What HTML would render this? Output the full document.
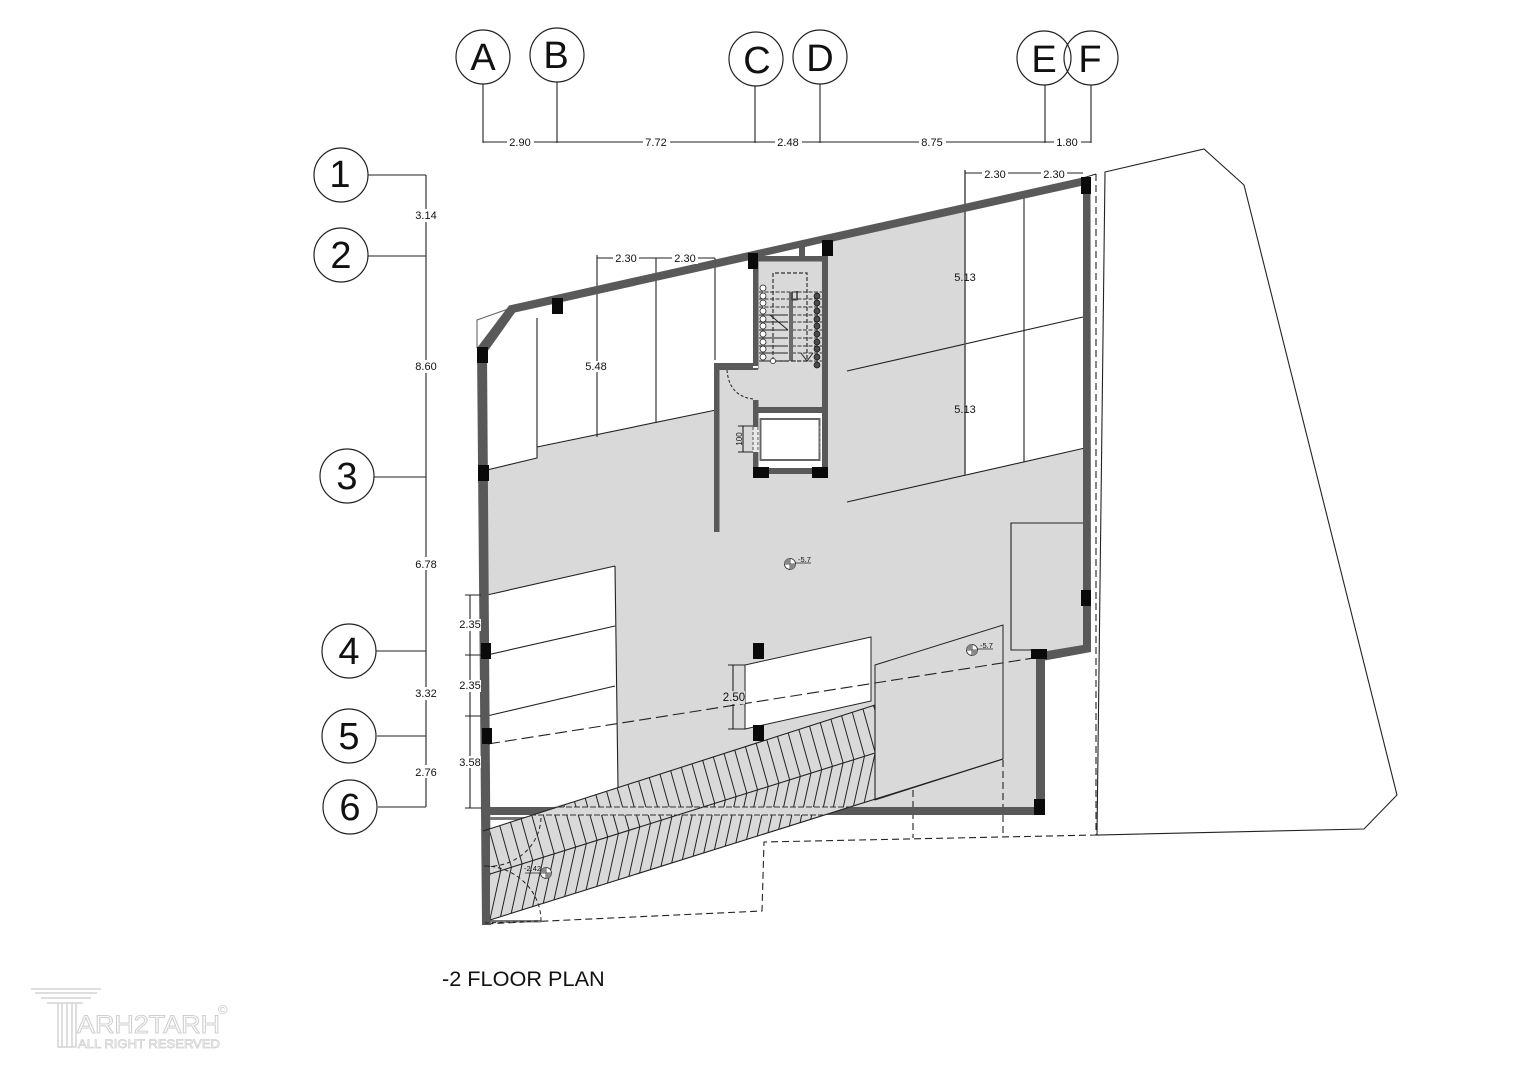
<!DOCTYPE html>
<html><head><meta charset="utf-8"><style>
html,body{margin:0;padding:0;background:#fff}
svg{display:block}
text{font-family:"Liberation Sans",sans-serif;fill:#111}
.d{font-size:10.5px;text-anchor:middle}
.g{font-size:38px;text-anchor:middle}
.t{stroke:#222;stroke-width:1.1;fill:none}
.w{fill:#595959}
.k{fill:#0a0a0a}
.c{fill:#fff;stroke:#222;stroke-width:1.2}
.bg{fill:#fff}
.dash{stroke:#222;stroke-width:1.1;fill:none;stroke-dasharray:7 4}
</style></head><body>
<svg width="1527" height="1080" viewBox="0 0 1527 1080" xmlns="http://www.w3.org/2000/svg">
<defs>
<clipPath id="ramp"><polygon points="490,829 875,705 875,799 490,920"/></clipPath>
<path id="ch" d="M476,824 L490,874 L479,924" fill="none" stroke="#222" stroke-width="1"/>
<g id="ch6"><use href="#ch"/><use href="#ch" transform="translate(10.7,-3.37)"/><use href="#ch" transform="translate(21.4,-6.74)"/><use href="#ch" transform="translate(32.1,-10.11)"/><use href="#ch" transform="translate(42.8,-13.48)"/><use href="#ch" transform="translate(53.5,-16.85)"/></g>
</defs>

<!-- floor -->
<polygon points="483,350 511,310 1085,180 1085,650 1040,657 1040,810 487,810" fill="#d9d9d9"/>
<polygon points="486,352 512,310 753,256 753,365 716,365 716,410 537,447 537,458 486,470" fill="#fff"/>
<polygon points="965,205 1085,178 1085,448 965,475" fill="#fff"/>
<polygon points="487,595 615,566 618,790 540,810 487,810" fill="#fff"/>
<polygon points="745,665 871,637 871,701 745,729" fill="#fff" stroke="#222" stroke-width="1"/>
<polygon points="875,665 1003,625 1003,759 875,800" fill="#d9d9d9" stroke="#222" stroke-width="1"/>

<!-- site -->
<path class="t" d="M1105,172 L1204,149 L1244,185 L1397,795 L1364,829 L1097,835 Z"/>
<path class="dash" d="M1096,174 V835 L764,842 L762,911 L483,924"/>
<path class="t" d="M1083,178 L1096,174"/>
<path class="dash" d="M913,790 V838 M1003,760 V837"/>
<path class="t" stroke-opacity=".7" d="M511,308 L477,320 V348"/>

<!-- interior lines -->
<g class="t">
<path d="M537,318 V458 L487,470 M537,447 L716,410"/>
<path d="M597,255 V437 M656,258 V423 M715,258 V360"/>
<path d="M1024,195 V462 M847,371 L1083,317 M847,502 L1085,448"/>
<path d="M615,566 L487,595 M615,626 L487,655 M615,686 L487,716 M615,566 L618,788"/>
<path d="M1083,523 H1011 V650 H1035"/>
</g>
<path d="M965,170 V475" stroke="#555" stroke-width="1.6" fill="none"/>

<!-- walls -->
<polygon class="w" points="477,348 509,305.500 1087,176.500 1090,184 515,312.500 487,352 491,925 482,925"/>
<polygon class="w" points="1083,180 1090.500,180 1091,652 1042,661 1041,652 1083,645"/>
<rect class="w" x="1036" y="655" width="9" height="155"/>
<rect class="w" x="485" y="807" width="556" height="8"/>
<rect x="490" y="817" width="51" height="3" fill="#777"/>
<rect x="490" y="920" width="51" height="2.500" fill="#777"/>

<!-- ramp -->
<polygon points="490,829 875,705 875,799 490,920" fill="#d9d9d9"/>
<g clip-path="url(#ramp)">
<use href="#ch6"/><use href="#ch6" transform="translate(64.2,-20.22)"/><use href="#ch6" transform="translate(128.4,-40.44)"/><use href="#ch6" transform="translate(192.6,-60.66)"/><use href="#ch6" transform="translate(256.8,-80.88)"/><use href="#ch6" transform="translate(321,-101.1)"/><use href="#ch6" transform="translate(385.2,-121.32)"/>
<rect x="485" y="807" width="400" height="8" fill="#d9d9d9"/>
</g>
<path class="t" d="M483,831 L875,705 M490,874 L875,753 M490,920 L1003,759 M875,705 V800"/>
<path d="M530,815 H823 M558,807 H850" stroke="#333" stroke-width="1" stroke-dasharray="6 2" fill="none"/>
<path d="M541,818 A52,50 0 0 1 484,866 M484,866 A57,55 0 0 1 541,921 L484,923" stroke="#222" stroke-width="1" stroke-dasharray="4 3" fill="none"/>

<!-- long dashed -->
<path class="dash" style="stroke-dasharray:12 5" d="M488,744 L1040,657"/>

<!-- stair core -->
<polygon points="760,257 799,248 799,257" fill="#fff"/>
<polygon points="805,247 822,243 822,257 805,257" fill="#fff"/>
<rect x="758" y="413" width="64" height="55" fill="#fff"/>
<rect class="w" x="799" y="247" width="6" height="10"/>
<rect class="w" x="753" y="256" width="75" height="5.500"/>
<rect class="w" x="822" y="256" width="6" height="218"/>
<rect class="w" x="753" y="261" width="5.500" height="108"/>
<rect class="w" x="714" y="363" width="44" height="7"/>
<rect class="w" x="714" y="363" width="5.500" height="169"/>
<rect x="753" y="366" width="5" height="2" fill="#fff"/>
<rect class="w" x="753" y="400" width="5.500" height="27"/>
<rect class="w" x="753" y="452" width="5.500" height="22"/>
<rect class="w" x="753" y="407" width="75" height="6"/>
<rect class="w" x="753" y="468" width="75" height="6"/>
<rect x="753" y="427" width="5.500" height="25" fill="#e8e8e8"/>
<path d="M753,427 V452 M758,427 V452" stroke="#555" stroke-width="1" stroke-dasharray="3 2"/>
<rect x="760.500" y="419" width="59" height="41" fill="#fff" stroke="#666" stroke-width="2"/>
<path d="M820,426 V452" stroke="#888" stroke-width="1" stroke-dasharray="3 2"/>
<path d="M727,370 Q729,396 753,399" stroke="#222" stroke-width="1" stroke-dasharray="3 2" fill="none"/>

<!-- stairs -->
<path d="M759,292 H822 M759,299 H822 M759,307 H822 M792,315 H822 M792,322 H822 M792,330 H822 M792,338 H822 M792,346 H822 M792,353 H822 M792,361 H822" stroke="#333" stroke-width="1.1" stroke-dasharray="4 1.500"/>
<path d="M759,315 H788 M759,322 H788 M759,330 H788 M759,338 H788 M759,346 H788 M759,353 H788 M759,361 H788" stroke="#222" stroke-width="1"/>
<rect x="789" y="292" width="4" height="69" fill="#6b6b6b"/>
<path d="M773,361 V273 H807 V361 H775" stroke="#333" stroke-width="1.200" stroke-dasharray="4 2" fill="none"/>
<path d="M770,315 L788,330 M801,353 L807,361 L813,353" stroke="#222" stroke-width="1" fill="none"/>
<rect x="792" y="292" width="5" height="8" fill="none" stroke="#222" stroke-width=".8"/>
<path d="M797,291 V300" stroke="#111" stroke-width="1.200"/>
<circle cx="773" cy="361" r="2.600" fill="#fff" stroke="#222" stroke-width=".7"/>
<g fill="#fff" stroke="#222" stroke-width=".8">
<circle cx="763" cy="288" r="3"/><circle cx="763" cy="296" r="3"/><circle cx="763" cy="303" r="3"/><circle cx="763" cy="311" r="3"/><circle cx="763" cy="319" r="3"/><circle cx="763" cy="326" r="3"/><circle cx="763" cy="334" r="3"/><circle cx="763" cy="342" r="3"/><circle cx="763" cy="349" r="3"/><circle cx="763" cy="357" r="3"/>
</g>
<g fill="#4a4a4a" stroke="#111" stroke-width=".7">
<circle cx="817" cy="296" r="3"/><circle cx="817" cy="303" r="3"/><circle cx="817" cy="311" r="3"/><circle cx="817" cy="319" r="3"/><circle cx="817" cy="326" r="3"/><circle cx="817" cy="334" r="3"/><circle cx="817" cy="342" r="3"/><circle cx="817" cy="349" r="3"/><circle cx="817" cy="357" r="3"/><circle cx="817" cy="365" r="3"/>
</g>

<!-- columns -->
<g class="k">
<rect x="1081" y="177" width="10" height="17"/><rect x="822" y="240" width="11" height="16"/><rect x="748" y="253" width="10" height="16"/><rect x="552" y="298" width="11" height="16"/>
<rect x="477" y="347" width="11" height="16"/><rect x="478" y="465" width="11" height="16"/><rect x="481" y="643" width="10" height="16"/><rect x="482" y="728" width="10" height="16"/>
<rect x="753" y="643" width="11" height="16"/><rect x="753" y="725" width="11" height="16"/><rect x="1081" y="590" width="10" height="16"/><rect x="1031" y="649" width="16" height="10"/>
<rect x="1034" y="799" width="11" height="16"/><rect x="753" y="467" width="16" height="11"/><rect x="812" y="467" width="16" height="11"/>
</g>

<!-- top dims -->
<path class="t" d="M483,84 V143 M557,82 V143 M755,86 V143 M820,84 V143 M1045,85 V143 M1091,85 V143 M483,142 H1091"/>
<g class="d" style="font-size:11px">
<rect class="bg" x="507" y="136" width="27" height="12"/><text x="520" y="146">2.90</text>
<rect class="bg" x="643" y="136" width="27" height="12"/><text x="656" y="146">7.72</text>
<rect class="bg" x="775" y="136" width="27" height="12"/><text x="788" y="146">2.48</text>
<rect class="bg" x="919" y="136" width="27" height="12"/><text x="932" y="146">8.75</text>
<rect class="bg" x="1054" y="136" width="27" height="12"/><text x="1067" y="146">1.80</text>
</g>
<g class="c">
<circle cx="483" cy="57" r="27"/><circle cx="557" cy="55" r="27"/><circle cx="756" cy="59" r="27"/><circle cx="820" cy="57" r="27"/><circle cx="1044" cy="58" r="27"/><circle cx="1091" cy="58" r="27" fill="none"/>
</g>
<text class="g" x="483" y="70">A</text><text class="g" x="556" y="68">B</text><text class="g" x="757" y="73">C</text><text class="g" x="820" y="71">D</text><text class="g" x="1044" y="72">E</text><text class="g" x="1090" y="72">F</text>

<!-- left dims -->
<path class="t" d="M368,175 H426 M368,256 H426 M374,477 H426 M376,651 H426 M377,736 H426 M378,807 H426 M426,175 V807"/>
<g class="d" style="font-size:11px">
<rect class="bg" x="413" y="209" width="26" height="13"/><text x="426" y="219">3.14</text>
<rect class="bg" x="413" y="360" width="26" height="13"/><text x="426" y="370">8.60</text>
<rect class="bg" x="413" y="557" width="26" height="13"/><text x="426" y="568">6.78</text>
<rect class="bg" x="413" y="687" width="26" height="13"/><text x="426" y="697">3.32</text>
<rect class="bg" x="413" y="765" width="26" height="13"/><text x="426" y="776">2.76</text>
</g>
<g class="c">
<circle cx="341" cy="175" r="27"/><circle cx="341" cy="255" r="27"/><circle cx="347" cy="476" r="27"/><circle cx="349" cy="651" r="27"/><circle cx="349" cy="736" r="27"/><circle cx="350" cy="807" r="27"/>
</g>
<text class="g" x="340" y="187">1</text><text class="g" x="341" y="268">2</text><text class="g" x="347" y="489">3</text><text class="g" x="349" y="664">4</text><text class="g" x="349" y="749">5</text><text class="g" x="350" y="820">6</text>

<!-- interior dims -->
<path class="t" d="M597,258 H715 M965,173 H1083 M470,595 V808 M465,595 H481 M465,655 H481 M465,716 H481 M465,808 H482 M733,665 V729 M728,665 H745 M728,729 H745 M743,426 V452 M738,426 H753 M738,452 H753"/>
<g class="d" style="font-size:11px">
<rect class="bg" x="613" y="252" width="26" height="12"/><text x="626" y="262">2.30</text>
<rect class="bg" x="672" y="252" width="26" height="12"/><text x="685" y="262">2.30</text>
<rect class="bg" x="982" y="167" width="26" height="12"/><text x="995" y="178">2.30</text>
<rect class="bg" x="1041" y="167" width="26" height="12"/><text x="1054" y="178">2.30</text>
<rect class="bg" x="584" y="361" width="26" height="11"/><text x="596" y="370">5.48</text>
<text x="965" y="281">5.13</text>
<text x="965" y="413">5.13</text>
<rect class="bg" x="458" y="619" width="23" height="12"/><text x="470" y="628">2.35</text>
<rect class="bg" x="458" y="680" width="23" height="12"/><text x="470" y="689">2.35</text>
<rect class="bg" x="458" y="756" width="23" height="12"/><text x="470" y="766">3.58</text>
</g>
<rect x="723" y="691" width="22" height="13" fill="#d9d9d9"/>
<text class="d" style="font-size:11.500px" x="734" y="701">2.50</text>
<text class="d" style="font-size:8px" transform="translate(742,439) rotate(-90)">100</text>

<!-- level marks -->
<g stroke="#222" stroke-width=".8" fill="#fff">
<circle cx="790" cy="564" r="5.500"/><path d="M784.500,564 H795.500 M790,558.500 V569.500 M795,563 H811"/>
<circle cx="972" cy="650" r="5.500"/><path d="M966.500,650 H977.500 M972,644.500 V655.500 M977,649 H993"/>
<circle cx="546" cy="873" r="5.500"/><path d="M540.500,873 H551.500 M546,867.500 V878.500 M525,873 H541"/>
</g>
<path d="M790,564 H795.500 A5.500,5.500 0 0 1 790,569.500 Z M790,564 H784.500 A5.500,5.500 0 0 1 790,558.500 Z M972,650 H977.500 A5.500,5.500 0 0 1 972,655.500 Z M972,650 H966.500 A5.500,5.500 0 0 1 972,644.500 Z M546,873 H551.500 A5.500,5.500 0 0 1 546,878.500 Z M546,873 H540.500 A5.500,5.500 0 0 1 546,867.500 Z" fill="#888"/>
<text x="798" y="562" style="font-size:7.500px">-5.7</text>
<text x="980" y="648" style="font-size:7.500px">-5.7</text>
<text x="524" y="871" style="font-size:7.500px">-2.42</text>

<!-- title -->
<text x="442" y="986" style="font-size:21.700px">-2 FLOOR PLAN</text>

<!-- watermark -->
<g fill="none" stroke="#d4d4d4" stroke-width="1.500">
<path d="M31,989 H101 M35,993 H97 M41,998 H91 M47,1003 H83"/>
<path d="M58,1003 V1047 H76 V1003 M62,1003 V1047 M67,1003 V1047 M72,1003 V1047"/>
</g>
<text x="77" y="1033" textLength="143" lengthAdjust="spacingAndGlyphs" style="font-size:25px;fill:#fff;stroke:#cfcfcf;stroke-width:1">ARH2TARH</text>
<text x="78" y="1048" textLength="142" lengthAdjust="spacingAndGlyphs" style="font-size:12px;fill:#fff;stroke:#cfcfcf;stroke-width:.7">ALL RIGHT RESERVED</text>
<text x="218" y="1014" style="font-size:13px;fill:#c4c4c4">©</text>
</svg>
</body></html>
